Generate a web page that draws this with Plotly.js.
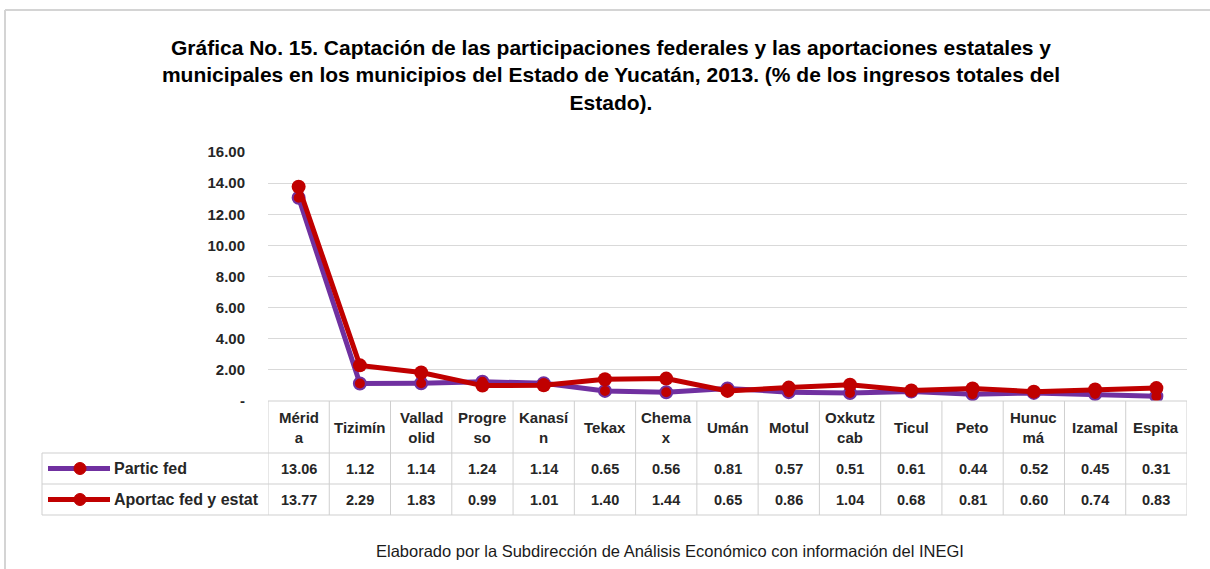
<!DOCTYPE html>
<html>
<head>
<meta charset="utf-8">
<script src="https://cdn.plot.ly/plotly-3.0.1.min.js"></script>
<style>html,body{margin:0;padding:0;background:#fff;}#chart{width:1210px;height:569px;}</style>
</head>
<body>
<div id="chart"></div>
<script>
const categories = ['Mérida','Tizimín','Valladolid','Progreso','Kanasín','Tekax','Chemax','Umán','Motul','Oxkutzcab','Ticul','Peto','Hunucmá','Izamal','Espita'];
const headerLabels = ['Mérid<br>a','Tizimín','Vallad<br>olid','Progre<br>so','Kanasí<br>n','Tekax','Chema<br>x','Umán','Motul','Oxkutz<br>cab','Ticul','Peto','Hunuc<br>má','Izamal','Espita'];
const particFed = [13.06,1.12,1.14,1.24,1.14,0.65,0.56,0.81,0.57,0.51,0.61,0.44,0.52,0.45,0.31];
const aportacFedEstat = [13.77,2.29,1.83,0.99,1.01,1.40,1.44,0.65,0.86,1.04,0.68,0.81,0.60,0.74,0.83];
const seriesNames = ['Partic fed','Aportac fed y estat'];
const yTickVals = [0,2,4,6,8,10,12,14,16];
const yTickText = ['-','2.00','4.00','6.00','8.00','10.00','12.00','14.00','16.00'];
const titleText = 'Gráfica No. 15. Captación de las participaciones federales y las aportaciones estatales y<br>municipales en los municipios del Estado de Yucatán, 2013. (% de los ingresos totales del<br>Estado).';
const footerText = 'Elaborado por la Subdirección de Análisis Económico con información del INEGI';

// layout geometry (pixels)
const W = 1210, Hh = 569;
const L = 268, R = 1187, T = 152, B = 401;
const pw = R - L, ph = B - T;
const px = x => (x - L) / pw;
const py = y => (B - y) / ph;

const PURPLE = '#7030A0', RED = '#C00000', GRID = '#D9D9D9', TLINE = '#CFCFCF', TXT = '#262626';
const FONT = 'Liberation Sans, Arial, sans-serif';

const traces = [
  {x: categories, y: particFed, name: seriesNames[0], type: 'scatter', mode: 'lines+markers',
   line: {color: PURPLE, width: 5}, marker: {color: RED, size: 12, line: {color: PURPLE, width: 2}}, showlegend: false},
  {x: categories, y: aportacFedEstat, name: seriesNames[1], type: 'scatter', mode: 'lines+markers',
   line: {color: RED, width: 5}, marker: {color: RED, size: 14}, showlegend: false}
];

const shapes = [];
const annotations = [];
const n = categories.length;
const rowTop = [401, 453, 484, 515];
// horizontal table lines
shapes.push({type:'line', xref:'x', yref:'paper', x0:-0.5, x1:n-0.5, y0:py(rowTop[0]), y1:py(rowTop[0]), line:{color:TLINE,width:1}});
for (let r = 1; r < rowTop.length; r++) {
  shapes.push({type:'line', xref:'paper', yref:'paper', x0:px(42), x1:1, y0:py(rowTop[r]), y1:py(rowTop[r]), line:{color:TLINE,width:1}});
}
// vertical table lines
for (let i = 0; i <= n; i++) {
  shapes.push({type:'line', xref:'x', yref:'paper', x0:i-0.5, x1:i-0.5, y0:py(rowTop[0]), y1:py(rowTop[3]), line:{color:TLINE,width:1}});
}
shapes.push({type:'line', xref:'paper', yref:'paper', x0:px(42), x1:px(42), y0:py(rowTop[1]), y1:py(rowTop[3]), line:{color:TLINE,width:1}});
// outer frame of picture
shapes.push({type:'line', xref:'paper', yref:'paper', x0:px(5), x1:px(1212), y0:py(10), y1:py(10), line:{color:'#D4D4D4',width:2}});
shapes.push({type:'line', xref:'paper', yref:'paper', x0:px(5), x1:px(5), y0:py(10), y1:py(571), line:{color:'#D4D4D4',width:2}});

// header labels
categories.forEach((c, i) => {
  annotations.push({xref:'x', yref:'paper', x:c, y:py((rowTop[0]+rowTop[1])/2), text:headerLabels[i], showarrow:false,
    xanchor:'center', yanchor:'middle', font:{family:FONT, size:15, color:TXT, weight:'bold'}});
});
// values
const seriesVals = [particFed, aportacFedEstat];
const seriesColors = [[PURPLE, RED], [RED, RED]];
seriesVals.forEach((vals, r) => {
  const yc = py((rowTop[r+1] + rowTop[r+2]) / 2);
  vals.forEach((v, i) => {
    annotations.push({xref:'x', yref:'paper', x:categories[i], y:yc, text:v.toFixed(2), showarrow:false,
      xanchor:'center', yanchor:'middle', font:{family:FONT, size:14.5, color:TXT, weight:'bold'}});
  });
  // legend key
  shapes.push({type:'line', xref:'paper', yref:'paper', x0:px(48), x1:px(110), y0:yc, y1:yc, line:{color:seriesColors[r][0], width:5}});
  const rad = 6;
  shapes.push({type:'circle', xref:'paper', yref:'paper', x0:px(80-rad), x1:px(80+rad), y0:yc - rad/ph, y1:yc + rad/ph,
    fillcolor:seriesColors[r][1], line:{color:seriesColors[r][1], width:1}});
  annotations.push({xref:'paper', yref:'paper', x:px(112), y:yc, text:seriesNames[r], showarrow:false,
    xanchor:'left', yanchor:'middle', font:{family:FONT, size:16, color:TXT, weight:'bold'}});
});
// footer
annotations.push({xref:'paper', yref:'paper', x:px(670), y:py(551), text:footerText, showarrow:false,
  xanchor:'center', yanchor:'middle', font:{family:FONT, size:16.5, color:'#1a1a1a'}});

const layout = {
  width: W, height: Hh,
  margin: {l: L, r: W - R, t: T, b: Hh - B, pad: 0},
  paper_bgcolor: '#ffffff', plot_bgcolor: '#ffffff',
  title: {text: titleText, x: 611/W, xanchor: 'center', y: 1 - 55/Hh, yanchor: 'top',
    font: {family: FONT, size: 21, color: '#000000', weight: 'bold'}},
  xaxis: {type: 'category', range: [-0.5, n - 0.5], showticklabels: false, showgrid: false, zeroline: false, showline: false, ticks: ''},
  yaxis: {range: [0, 16], tickvals: yTickVals, ticktext: yTickText, showgrid: true, gridcolor: GRID, gridwidth: 1,
    zeroline: false, showline: false, ticks: 'outside', ticklen: 19, tickcolor: 'rgba(0,0,0,0)',
    tickfont: {family: FONT, size: 15, color: TXT, weight: 'bold'}},
  shapes: shapes,
  annotations: annotations,
  showlegend: false
};

Plotly.newPlot('chart', traces, layout, {displayModeBar: false, staticPlot: true});
</script>
</body>
</html>
